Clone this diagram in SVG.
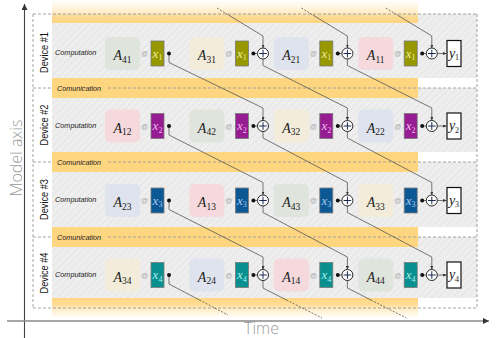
<svg xmlns="http://www.w3.org/2000/svg" width="498" height="338" viewBox="0 0 498 338">
<style>
.dash{stroke:#9a9a9a;stroke-width:0.9;stroke-dasharray:3 2;fill:none}
.band{fill:#FFD680}
.blk{stroke:none}
.c1{fill:#f5d9dd}.c2{fill:#dee3ed}.c3{fill:#f3ecda}.c4{fill:#dfe4dc}
.xb{stroke:#7a7a7a;stroke-width:0.8}
.x1{fill:#979700}.x2{fill:#961c92}.x3{fill:#0c5895}.x4{fill:#0a8f8f}
.mt{font-family:"Liberation Serif","DejaVu Serif",serif;font-size:14px;fill:#222}
.xt{font-family:"Liberation Serif","DejaVu Serif",serif;font-size:13px}
.t1{fill:#eeee9c}.t2{fill:#f2b6ee}.t3{fill:#a9cdef}.t4{fill:#a6efef}
.at{font-family:"Liberation Sans",Arial,sans-serif;font-size:7px;fill:#aaa}
.comp{font-family:"Liberation Sans",Arial,sans-serif;font-size:7.3px;font-style:italic;fill:#222}
.comm{font-family:"Liberation Sans",Arial,sans-serif;font-size:8px;font-style:italic;fill:#222}
.dev{font-family:"Liberation Sans",Arial,sans-serif;font-size:10.5px;fill:#111}
.ax{font-family:"Open Sans","Liberation Sans",sans-serif;font-size:16px;fill:#9a9a9a;font-weight:300}
.con{stroke:#555;stroke-width:0.8;fill:none}
.cond{stroke:#555;stroke-width:0.8;fill:none;stroke-dasharray:2 1.5}
.plus{fill:#fff;stroke:#111;stroke-width:0.9}
.pl{stroke:#1a2a50;stroke-width:1}
.dot{fill:#111}
.yb{fill:#fff;stroke:#111;stroke-width:1.2}
</style>
<defs>
<pattern id="hatch" width="5" height="5" patternUnits="userSpaceOnUse" patternTransform="rotate(45)">
<rect width="5" height="5" fill="#eeeeee"/>
<line x1="0" y1="0" x2="0" y2="5" stroke="#e3e3e3" stroke-width="1.6"/>
</pattern>
<linearGradient id="gTop" x1="0" y1="0" x2="0" y2="1">
<stop offset="0" stop-color="#FFD680" stop-opacity="0"/>
<stop offset="0.55" stop-color="#FFD680" stop-opacity="0.45"/>
<stop offset="0.75" stop-color="#FFD680" stop-opacity="0.85"/>
<stop offset="1" stop-color="#FFD680" stop-opacity="1"/>
</linearGradient>
<linearGradient id="gBot" x1="0" y1="0" x2="0" y2="1">
<stop offset="0" stop-color="#FFD680" stop-opacity="1"/>
<stop offset="0.3" stop-color="#FFD680" stop-opacity="0.85"/>
<stop offset="0.6" stop-color="#FFD680" stop-opacity="0.4"/>
<stop offset="1" stop-color="#FFD680" stop-opacity="0"/>
</linearGradient>
<marker id="arr" markerWidth="4" markerHeight="3" refX="3.5" refY="1.5" orient="auto" markerUnits="userSpaceOnUse">
<path d="M0,0 L3.5,1.5 L0,3 z" fill="#333"/>
</marker>
<marker id="axarr" markerWidth="7" markerHeight="6" refX="6" refY="3" orient="auto" markerUnits="userSpaceOnUse">
<path d="M0,0 L6,3 L0,6 z" fill="#333"/>
</marker>
</defs>

<!-- backgrounds -->
<g id="background">
<rect x="52" y="14" width="425" height="64" fill="url(#hatch)"/>
<rect x="52" y="88" width="425" height="64" fill="url(#hatch)"/>
<rect x="52" y="162" width="425" height="65" fill="url(#hatch)"/>
<rect x="52" y="237" width="425" height="61" fill="url(#hatch)"/>
<rect x="52" y="0" width="366" height="23" fill="url(#gTop)"/>
<rect class="band" x="52" y="78" width="366" height="20"/>
<rect class="band" x="52" y="152" width="366" height="20"/>
<rect class="band" x="52" y="227" width="366" height="20"/>
<rect x="52" y="298" width="366" height="20" fill="url(#gBot)"/>
</g>

<!-- device boxes (dashed) -->
<g id="device-boxes">
<line class="dash" x1="33" y1="14" x2="477" y2="14"/>
<line class="dash" x1="33" y1="308" x2="477" y2="308"/>
<line class="dash" x1="33" y1="14" x2="33" y2="308"/>
<line class="dash" x1="477" y1="14" x2="477" y2="308"/>
<line class="dash" x1="33" y1="88" x2="52" y2="88"/>
<line class="dash" x1="108" y1="88" x2="477" y2="88"/>
<line class="dash" x1="33" y1="162" x2="52" y2="162"/>
<line class="dash" x1="108" y1="162" x2="477" y2="162"/>
<line class="dash" x1="33" y1="237" x2="52" y2="237"/>
<line class="dash" x1="108" y1="237" x2="477" y2="237"/>
<text class="comm" x="57" y="91" textLength="44" lengthAdjust="spacingAndGlyphs">Comunication</text>
<text class="comm" x="57" y="165" textLength="44" lengthAdjust="spacingAndGlyphs">Comunication</text>
<text class="comm" x="57" y="240" textLength="44" lengthAdjust="spacingAndGlyphs">Comunication</text>
</g>

<!-- axes -->
<g id="axes">
<line x1="24.5" y1="338" x2="24.5" y2="4" stroke="#444" stroke-width="1.1" marker-end="url(#axarr)"/>
<line x1="7" y1="321" x2="489" y2="321" stroke="#888" stroke-width="1.5" marker-end="url(#axarr)"/>
<text class="ax" transform="translate(21.5,158) rotate(-90)" text-anchor="middle">Model axis</text>
<text class="ax" x="244" y="333.5" font-size="15">Time</text>
</g>

<!-- connectors -->
<g id="connectors">
<path class="cond" d="M217,8 L228.5,15"/>
<path class="con" d="M228.5,15 L263,36 V48" marker-end="url(#arr)"/>
<path class="cond" d="M301.4,8 L312.9,15"/>
<path class="con" d="M312.9,15 L347.4,36 V48" marker-end="url(#arr)"/>
<path class="cond" d="M385.8,8 L397.3,15"/>
<path class="con" d="M397.3,15 L431.8,36 V48" marker-end="url(#arr)"/>
<path class="con" d="M169,53.5 V62.5 L263,108 V120.5" marker-end="url(#arr)"/>
<path class="con" d="M263,59 V65.5 L347.4,108 V120.5" marker-end="url(#arr)"/>
<path class="con" d="M347.4,59 V65.5 L431.8,108 V120.5" marker-end="url(#arr)"/>
<path class="con" d="M169,126 V135 L263,182.5 V195" marker-end="url(#arr)"/>
<path class="con" d="M263,131.5 V138 L347.4,182.5 V195" marker-end="url(#arr)"/>
<path class="con" d="M347.4,131.5 V138 L431.8,182.5 V195" marker-end="url(#arr)"/>
<path class="con" d="M169,200.5 V209.5 L263,257 V269.5" marker-end="url(#arr)"/>
<path class="con" d="M263,206 V212.5 L347.4,257 V269.5" marker-end="url(#arr)"/>
<path class="con" d="M347.4,206 V212.5 L431.8,257 V269.5" marker-end="url(#arr)"/>
<path class="con" d="M169,275 V284 L199.5,300"/>
<path class="cond" d="M199.5,300 L228,315"/>
<path class="con" d="M263,280.5 V288 L286.5,300"/>
<path class="cond" d="M286.5,300 L322,318"/>
<path class="con" d="M347.4,280.5 V288 L370.9,300"/>
<path class="cond" d="M370.9,300 L406.4,318"/>
<path class="con" d="M253.4,53.5 H257.5 M337.8,53.5 H341.9 M422.2,53.5 H426.3"/>
<path class="con" d="M253.4,126 H257.5 M337.8,126 H341.9 M422.2,126 H426.3"/>
<path class="con" d="M253.4,200.5 H257.5 M337.8,200.5 H341.9 M422.2,200.5 H426.3"/>
<path class="con" d="M253.4,275 H257.5 M337.8,275 H341.9 M422.2,275 H426.3"/>
<line class="con" x1="437.3" y1="53.5" x2="446.5" y2="53.5" marker-end="url(#arr)"/>
<line class="con" x1="437.3" y1="126" x2="446.5" y2="126" marker-end="url(#arr)"/>
<line class="con" x1="437.3" y1="200.5" x2="446.5" y2="200.5" marker-end="url(#arr)"/>
<line class="con" x1="437.3" y1="275" x2="446.5" y2="275" marker-end="url(#arr)"/>
</g>

<!-- Device 1 -->
<g id="device1">
<text class="dev" transform="translate(47.5,52.5) rotate(-90)" text-anchor="middle" textLength="41" lengthAdjust="spacingAndGlyphs">Device #1</text>
<text class="comp" x="55" y="55">Computation</text>
<rect class="blk c4" x="105" y="37" width="35" height="33" rx="5"/>
<text class="mt" x="122.5" y="60" text-anchor="middle"><tspan font-style="italic">A</tspan><tspan font-size="9.5" dy="2.5">41</tspan></text>
<rect class="blk c3" x="189.4" y="37" width="35" height="33" rx="5"/>
<text class="mt" x="206.9" y="60" text-anchor="middle"><tspan font-style="italic">A</tspan><tspan font-size="9.5" dy="2.5">31</tspan></text>
<rect class="blk c2" x="273.8" y="37" width="35" height="33" rx="5"/>
<text class="mt" x="291.3" y="60" text-anchor="middle"><tspan font-style="italic">A</tspan><tspan font-size="9.5" dy="2.5">21</tspan></text>
<rect class="blk c1" x="358.2" y="37" width="35" height="33" rx="5"/>
<text class="mt" x="375.7" y="60" text-anchor="middle"><tspan font-style="italic">A</tspan><tspan font-size="9.5" dy="2.5">11</tspan></text>
<text class="at" x="144.5" y="56" text-anchor="middle">@</text>
<text class="at" x="228.9" y="56" text-anchor="middle">@</text>
<text class="at" x="313.3" y="56" text-anchor="middle">@</text>
<text class="at" x="397.7" y="56" text-anchor="middle">@</text>
<rect class="xb x1" x="151" y="41" width="13" height="25"/>
<rect class="xb x1" x="235.4" y="41" width="13" height="25"/>
<rect class="xb x1" x="319.8" y="41" width="13" height="25"/>
<rect class="xb x1" x="404.2" y="41" width="13" height="25"/>
<text class="xt t1" x="157.5" y="57.5" text-anchor="middle"><tspan font-style="italic">x</tspan><tspan font-size="8" dy="2.5">1</tspan></text>
<text class="xt t1" x="241.9" y="57.5" text-anchor="middle"><tspan font-style="italic">x</tspan><tspan font-size="8" dy="2.5">1</tspan></text>
<text class="xt t1" x="326.3" y="57.5" text-anchor="middle"><tspan font-style="italic">x</tspan><tspan font-size="8" dy="2.5">1</tspan></text>
<text class="xt t1" x="410.7" y="57.5" text-anchor="middle"><tspan font-style="italic">x</tspan><tspan font-size="8" dy="2.5">1</tspan></text>
<circle class="dot" cx="169" cy="53.5" r="2"/>
<circle class="dot" cx="253.4" cy="53.5" r="2"/>
<circle class="dot" cx="337.8" cy="53.5" r="2"/>
<circle class="dot" cx="422.2" cy="53.5" r="2"/>
<circle class="plus" cx="263" cy="53.5" r="5.5"/><path class="pl" d="M259.2,53.5 H266.8 M263,49.7 V57.3"/>
<circle class="plus" cx="347.4" cy="53.5" r="5.5"/><path class="pl" d="M343.6,53.5 H351.2 M347.4,49.7 V57.3"/>
<circle class="plus" cx="431.8" cy="53.5" r="5.5"/><path class="pl" d="M428,53.5 H435.6 M431.8,49.7 V57.3"/>
<rect class="yb" x="447" y="40.5" width="14" height="26"/>
<text class="mt" x="454" y="57.5" text-anchor="middle"><tspan font-style="italic">y</tspan><tspan font-size="8" dy="2.5">1</tspan></text>
</g>

<!-- Device 2 -->
<g id="device2">
<text class="dev" transform="translate(47.5,125) rotate(-90)" text-anchor="middle" textLength="41" lengthAdjust="spacingAndGlyphs">Device #2</text>
<text class="comp" x="55" y="127.5">Computation</text>
<rect class="blk c1" x="105" y="109.5" width="35" height="33" rx="5"/>
<text class="mt" x="122.5" y="132.5" text-anchor="middle"><tspan font-style="italic">A</tspan><tspan font-size="9.5" dy="2.5">12</tspan></text>
<rect class="blk c4" x="189.4" y="109.5" width="35" height="33" rx="5"/>
<text class="mt" x="206.9" y="132.5" text-anchor="middle"><tspan font-style="italic">A</tspan><tspan font-size="9.5" dy="2.5">42</tspan></text>
<rect class="blk c3" x="273.8" y="109.5" width="35" height="33" rx="5"/>
<text class="mt" x="291.3" y="132.5" text-anchor="middle"><tspan font-style="italic">A</tspan><tspan font-size="9.5" dy="2.5">32</tspan></text>
<rect class="blk c2" x="358.2" y="109.5" width="35" height="33" rx="5"/>
<text class="mt" x="375.7" y="132.5" text-anchor="middle"><tspan font-style="italic">A</tspan><tspan font-size="9.5" dy="2.5">22</tspan></text>
<text class="at" x="144.5" y="128.5" text-anchor="middle">@</text>
<text class="at" x="228.9" y="128.5" text-anchor="middle">@</text>
<text class="at" x="313.3" y="128.5" text-anchor="middle">@</text>
<text class="at" x="397.7" y="128.5" text-anchor="middle">@</text>
<rect class="xb x2" x="151" y="113.5" width="13" height="25"/>
<rect class="xb x2" x="235.4" y="113.5" width="13" height="25"/>
<rect class="xb x2" x="319.8" y="113.5" width="13" height="25"/>
<rect class="xb x2" x="404.2" y="113.5" width="13" height="25"/>
<text class="xt t2" x="157.5" y="130" text-anchor="middle"><tspan font-style="italic">x</tspan><tspan font-size="8" dy="2.5">2</tspan></text>
<text class="xt t2" x="241.9" y="130" text-anchor="middle"><tspan font-style="italic">x</tspan><tspan font-size="8" dy="2.5">2</tspan></text>
<text class="xt t2" x="326.3" y="130" text-anchor="middle"><tspan font-style="italic">x</tspan><tspan font-size="8" dy="2.5">2</tspan></text>
<text class="xt t2" x="410.7" y="130" text-anchor="middle"><tspan font-style="italic">x</tspan><tspan font-size="8" dy="2.5">2</tspan></text>
<circle class="dot" cx="169" cy="126" r="2"/>
<circle class="dot" cx="253.4" cy="126" r="2"/>
<circle class="dot" cx="337.8" cy="126" r="2"/>
<circle class="dot" cx="422.2" cy="126" r="2"/>
<circle class="plus" cx="263" cy="126" r="5.5"/><path class="pl" d="M259.2,126 H266.8 M263,122.2 V129.8"/>
<circle class="plus" cx="347.4" cy="126" r="5.5"/><path class="pl" d="M343.6,126 H351.2 M347.4,122.2 V129.8"/>
<circle class="plus" cx="431.8" cy="126" r="5.5"/><path class="pl" d="M428,126 H435.6 M431.8,122.2 V129.8"/>
<rect class="yb" x="447" y="113" width="14" height="26"/>
<text class="mt" x="454" y="130" text-anchor="middle"><tspan font-style="italic">y</tspan><tspan font-size="8" dy="2.5">2</tspan></text>
</g>

<!-- Device 3 -->
<g id="device3">
<text class="dev" transform="translate(47.5,199.5) rotate(-90)" text-anchor="middle" textLength="41" lengthAdjust="spacingAndGlyphs">Device #3</text>
<text class="comp" x="55" y="202">Computation</text>
<rect class="blk c2" x="105" y="184" width="35" height="33" rx="5"/>
<text class="mt" x="122.5" y="207" text-anchor="middle"><tspan font-style="italic">A</tspan><tspan font-size="9.5" dy="2.5">23</tspan></text>
<rect class="blk c1" x="189.4" y="184" width="35" height="33" rx="5"/>
<text class="mt" x="206.9" y="207" text-anchor="middle"><tspan font-style="italic">A</tspan><tspan font-size="9.5" dy="2.5">13</tspan></text>
<rect class="blk c4" x="273.8" y="184" width="35" height="33" rx="5"/>
<text class="mt" x="291.3" y="207" text-anchor="middle"><tspan font-style="italic">A</tspan><tspan font-size="9.5" dy="2.5">43</tspan></text>
<rect class="blk c3" x="358.2" y="184" width="35" height="33" rx="5"/>
<text class="mt" x="375.7" y="207" text-anchor="middle"><tspan font-style="italic">A</tspan><tspan font-size="9.5" dy="2.5">33</tspan></text>
<text class="at" x="144.5" y="203" text-anchor="middle">@</text>
<text class="at" x="228.9" y="203" text-anchor="middle">@</text>
<text class="at" x="313.3" y="203" text-anchor="middle">@</text>
<text class="at" x="397.7" y="203" text-anchor="middle">@</text>
<rect class="xb x3" x="151" y="188" width="13" height="25"/>
<rect class="xb x3" x="235.4" y="188" width="13" height="25"/>
<rect class="xb x3" x="319.8" y="188" width="13" height="25"/>
<rect class="xb x3" x="404.2" y="188" width="13" height="25"/>
<text class="xt t3" x="157.5" y="204.5" text-anchor="middle"><tspan font-style="italic">x</tspan><tspan font-size="8" dy="2.5">3</tspan></text>
<text class="xt t3" x="241.9" y="204.5" text-anchor="middle"><tspan font-style="italic">x</tspan><tspan font-size="8" dy="2.5">3</tspan></text>
<text class="xt t3" x="326.3" y="204.5" text-anchor="middle"><tspan font-style="italic">x</tspan><tspan font-size="8" dy="2.5">3</tspan></text>
<text class="xt t3" x="410.7" y="204.5" text-anchor="middle"><tspan font-style="italic">x</tspan><tspan font-size="8" dy="2.5">3</tspan></text>
<circle class="dot" cx="169" cy="200.5" r="2"/>
<circle class="dot" cx="253.4" cy="200.5" r="2"/>
<circle class="dot" cx="337.8" cy="200.5" r="2"/>
<circle class="dot" cx="422.2" cy="200.5" r="2"/>
<circle class="plus" cx="263" cy="200.5" r="5.5"/><path class="pl" d="M259.2,200.5 H266.8 M263,196.7 V204.3"/>
<circle class="plus" cx="347.4" cy="200.5" r="5.5"/><path class="pl" d="M343.6,200.5 H351.2 M347.4,196.7 V204.3"/>
<circle class="plus" cx="431.8" cy="200.5" r="5.5"/><path class="pl" d="M428,200.5 H435.6 M431.8,196.7 V204.3"/>
<rect class="yb" x="447" y="187.5" width="14" height="26"/>
<text class="mt" x="454" y="204.5" text-anchor="middle"><tspan font-style="italic">y</tspan><tspan font-size="8" dy="2.5">3</tspan></text>
</g>

<!-- Device 4 -->
<g id="device4">
<text class="dev" transform="translate(47.5,273) rotate(-90)" text-anchor="middle" textLength="41" lengthAdjust="spacingAndGlyphs">Device #4</text>
<text class="comp" x="55" y="276.5">Computation</text>
<rect class="blk c3" x="105" y="258.5" width="35" height="33" rx="5"/>
<text class="mt" x="122.5" y="281.5" text-anchor="middle"><tspan font-style="italic">A</tspan><tspan font-size="9.5" dy="2.5">34</tspan></text>
<rect class="blk c2" x="189.4" y="258.5" width="35" height="33" rx="5"/>
<text class="mt" x="206.9" y="281.5" text-anchor="middle"><tspan font-style="italic">A</tspan><tspan font-size="9.5" dy="2.5">24</tspan></text>
<rect class="blk c1" x="273.8" y="258.5" width="35" height="33" rx="5"/>
<text class="mt" x="291.3" y="281.5" text-anchor="middle"><tspan font-style="italic">A</tspan><tspan font-size="9.5" dy="2.5">14</tspan></text>
<rect class="blk c4" x="358.2" y="258.5" width="35" height="33" rx="5"/>
<text class="mt" x="375.7" y="281.5" text-anchor="middle"><tspan font-style="italic">A</tspan><tspan font-size="9.5" dy="2.5">44</tspan></text>
<text class="at" x="144.5" y="277.5" text-anchor="middle">@</text>
<text class="at" x="228.9" y="277.5" text-anchor="middle">@</text>
<text class="at" x="313.3" y="277.5" text-anchor="middle">@</text>
<text class="at" x="397.7" y="277.5" text-anchor="middle">@</text>
<rect class="xb x4" x="151" y="262.5" width="13" height="25"/>
<rect class="xb x4" x="235.4" y="262.5" width="13" height="25"/>
<rect class="xb x4" x="319.8" y="262.5" width="13" height="25"/>
<rect class="xb x4" x="404.2" y="262.5" width="13" height="25"/>
<text class="xt t4" x="157.5" y="279" text-anchor="middle"><tspan font-style="italic">x</tspan><tspan font-size="8" dy="2.5">4</tspan></text>
<text class="xt t4" x="241.9" y="279" text-anchor="middle"><tspan font-style="italic">x</tspan><tspan font-size="8" dy="2.5">4</tspan></text>
<text class="xt t4" x="326.3" y="279" text-anchor="middle"><tspan font-style="italic">x</tspan><tspan font-size="8" dy="2.5">4</tspan></text>
<text class="xt t4" x="410.7" y="279" text-anchor="middle"><tspan font-style="italic">x</tspan><tspan font-size="8" dy="2.5">4</tspan></text>
<circle class="dot" cx="169" cy="275" r="2"/>
<circle class="dot" cx="253.4" cy="275" r="2"/>
<circle class="dot" cx="337.8" cy="275" r="2"/>
<circle class="dot" cx="422.2" cy="275" r="2"/>
<circle class="plus" cx="263" cy="275" r="5.5"/><path class="pl" d="M259.2,275 H266.8 M263,271.2 V278.8"/>
<circle class="plus" cx="347.4" cy="275" r="5.5"/><path class="pl" d="M343.6,275 H351.2 M347.4,271.2 V278.8"/>
<circle class="plus" cx="431.8" cy="275" r="5.5"/><path class="pl" d="M428,275 H435.6 M431.8,271.2 V278.8"/>
<rect class="yb" x="447" y="262" width="14" height="26"/>
<text class="mt" x="454" y="279" text-anchor="middle"><tspan font-style="italic">y</tspan><tspan font-size="8" dy="2.5">4</tspan></text>
</g>
</svg>
